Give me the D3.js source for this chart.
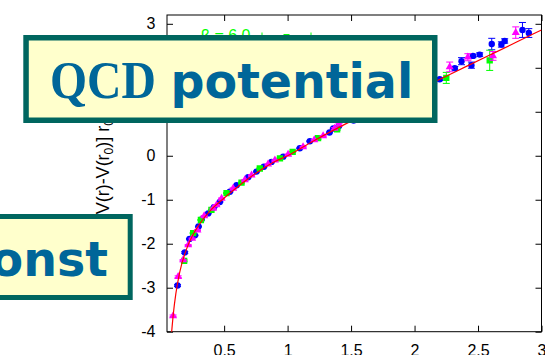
<!DOCTYPE html>
<html>
<head>
<meta charset="utf-8">
<script src="https://cdn.jsdelivr.net/npm/d3@7"></script>
<style>
  body { margin: 0; background: #fff; }
  svg { display: block; }
  .axis text { font-family: "Liberation Sans", Arial, sans-serif; font-size: 16px; fill: #000; }
  .axis line { stroke: #000; }
</style>
</head>
<body>
<div id="chart"></div>
<script>
// lattice data, [V(r)-V(r0)] r0 against r/r0
const blueR = [0.133, 0.19, 0.227, 0.27, 0.298, 0.322, 0.374, 0.42, 0.466, 0.545,
  0.598, 0.689, 0.755, 0.813, 0.873, 0.965, 1.096, 1.175, 1.33, 1.36,
  1.40, 1.52, 1.65, 1.80, 1.95, 2.10, 2.198, 2.317, 2.37, 2.448,
  2.46, 2.513, 2.608, 2.684, 2.71, 2.85, 2.90];
const blueV = [-2.95, -2.20, -1.89, -1.81, -1.61, -1.45, -1.31, -1.17, -1.05, -0.82,
  -0.67, -0.49, -0.36, -0.25, -0.14, -0.02, 0.17, 0.33, 0.53, 0.62,
  0.66, 0.80, 0.99, 1.22, 1.43, 1.62, 1.74, 1.99, 2.15, 2.06,
  2.27, 2.30, 2.54, 2.53, 2.61, 2.86, 2.79];
const blueErr = [0.02, 0.02, 0.01, 0.01, 0.01, 0.01, 0.01, 0.01, 0.01, 0.01,
  0.01, 0.01, 0.01, 0.01, 0.01, 0.01, 0.01, 0.01, 0.01, 0.01,
  0.02, 0.02, 0.02, 0.03, 0.03, 0.03, 0.03, 0.04, 0.08, 0.07,
  0.04, 0.04, 0.13, 0.06, 0.05, 0.17, 0.10];

const magR = [0.098, 0.138, 0.177, 0.217, 0.248, 0.29, 0.343, 0.413, 0.44, 0.48,
  0.571, 0.663, 0.716, 0.846, 0.90, 1.004, 1.122, 1.21, 1.28, 1.37,
  1.405, 1.55, 1.70, 1.85, 2.00, 2.15, 2.277, 2.42, 2.618, 2.797];
const magV = [-3.64, -2.75, -2.37, -2.03, -1.88, -1.69, -1.37, -1.20, -1.12, -0.97,
  -0.74, -0.55, -0.44, -0.19, -0.10, 0.03, 0.20, 0.36, 0.45, 0.62,
  0.71, 0.88, 1.10, 1.32, 1.52, 1.70, 2.02, 2.24, 2.27, 2.80];
const magErr = [0.02, 0.02, 0.01, 0.01, 0.01, 0.01, 0.01, 0.01, 0.01, 0.01,
  0.01, 0.01, 0.01, 0.01, 0.01, 0.01, 0.01, 0.01, 0.01, 0.02,
  0.02, 0.02, 0.03, 0.03, 0.04, 0.05, 0.11, 0.08, 0.10, 0.13];

const greenR = [0.185, 0.256, 0.317, 0.40, 0.519, 0.637, 0.781, 0.94, 1.04, 1.24, 1.39, 1.60, 1.90, 2.25, 2.592];
const greenV = [-2.39, -1.76, -1.46, -1.23, -0.85, -0.61, -0.29, -0.06, 0.09, 0.40, 0.60, 0.95, 1.38, 1.77, 2.17];
const greenErr = [0.02, 0.01, 0.01, 0.01, 0.01, 0.01, 0.01, 0.01, 0.01, 0.02, 0.02, 0.03, 0.05, 0.125, 0.23];

// fitted curve
const fitR = [0.086, 0.10, 0.12, 0.15, 0.20, 0.25, 0.30, 0.40, 0.50, 0.60, 0.70, 0.80,
  0.90, 1.00, 1.20, 1.40, 1.60, 1.80, 2.00, 2.20, 2.40, 2.60, 2.80, 3.00];
const fitV = [-4.03, -3.59, -3.13, -2.65, -2.15, -1.82, -1.58, -1.22, -0.96, -0.72, -0.50, -0.30,
  -0.13, 0.00, 0.33, 0.64, 0.93, 1.20, 1.47, 1.74, 2.02, 2.30, 2.58, 2.86];

const xTicks = [0.5, 1, 1.5, 2, 2.5, 3];
const yTicks = [-4, -3, -2, -1, 0, 1, 2, 3];
const xTickLabels = ['0.5', '1', '1.5', '2', '2.5', '3'];
const yTickLabels = ['-4', '-3', '-2', '-1', '0', '', '', '3'];

const width = 545;
const height = 355;
const margin = { top: 15, right: 3.5, bottom: 23.3, left: 167 };

const svg = d3.select('#chart').append('svg')
  .attr('width', width)
  .attr('height', height);

const x = d3.scaleLinear().domain([0.05, 3]).range([margin.left, width - margin.right]);
const y = d3.scaleLinear().domain([-4, 3.2]).range([height - margin.bottom, margin.top]);

svg.append('defs').append('clipPath').attr('id', 'plot')
  .append('rect')
  .attr('x', margin.left).attr('y', margin.top)
  .attr('width', x.range()[1] - margin.left)
  .attr('height', y.range()[0] - margin.top);

// axes with inward ticks on all four sides
svg.append('g').attr('class', 'axis')
  .attr('transform', `translate(${margin.left},0)`)
  .call(d3.axisLeft(y).tickValues(yTicks).tickSize(-6).tickPadding(11.5)
    .tickFormat((d, i) => yTickLabels[i]))
  .call(g => g.select('.domain').remove());

svg.append('g').attr('class', 'axis')
  .attr('transform', `translate(${x.range()[1]},0)`)
  .call(d3.axisRight(y).tickValues(yTicks).tickSize(-6).tickFormat(''))
  .call(g => g.select('.domain').remove());

svg.append('g').attr('class', 'axis')
  .attr('transform', `translate(0,${y.range()[0]})`)
  .call(d3.axisBottom(x).tickValues(xTicks).tickSize(-6).tickPadding(13)
    .tickFormat((d, i) => xTickLabels[i]))
  .call(g => g.select('.domain').remove());

svg.append('g').attr('class', 'axis')
  .attr('transform', `translate(0,${margin.top})`)
  .call(d3.axisTop(x).tickValues(xTicks).tickSize(-6).tickFormat(''))
  .call(g => g.select('.domain').remove());

svg.append('rect')
  .attr('x', margin.left).attr('y', margin.top)
  .attr('width', x.range()[1] - margin.left)
  .attr('height', y.range()[0] - margin.top)
  .attr('fill', 'none').attr('stroke', '#000').attr('stroke-width', 1);

// y axis title
const ylab = svg.append('text')
  .attr('transform', 'translate(109,119) rotate(-90)')
  .attr('text-anchor', 'end')
  .style('font-family', '"Liberation Sans", Arial, sans-serif')
  .style('font-size', '18px');
ylab.append('tspan').text('[V(r)-V(r');
ylab.append('tspan').attr('dy', 4).style('font-size', '12px').text('0');
ylab.append('tspan').attr('dy', -4).text(')] r');
ylab.append('tspan').attr('dy', 4).style('font-size', '12px').text('0');

// data series
const plot = svg.append('g').attr('clip-path', 'url(#plot)');

function series(rs, vs, errs, color, shape) {
  const pts = rs.map((r, i) => ({ r: r, v: vs[i], e: errs[i] }));
  const g = plot.append('g').attr('stroke', color).attr('fill', color);
  const bars = g.selectAll('g.err').data(pts).enter().append('g').attr('class', 'err');
  bars.append('line')
    .attr('x1', d => x(d.r)).attr('x2', d => x(d.r))
    .attr('y1', d => y(d.v - d.e)).attr('y2', d => y(d.v + d.e));
  bars.append('line')
    .attr('x1', d => x(d.r) - 3.5).attr('x2', d => x(d.r) + 3.5)
    .attr('y1', d => y(d.v - d.e)).attr('y2', d => y(d.v - d.e));
  bars.append('line')
    .attr('x1', d => x(d.r) - 3.5).attr('x2', d => x(d.r) + 3.5)
    .attr('y1', d => y(d.v + d.e)).attr('y2', d => y(d.v + d.e));
  if (shape === 'circle') {
    g.selectAll('circle').data(pts).enter().append('circle')
      .attr('cx', d => x(d.r)).attr('cy', d => y(d.v)).attr('r', 3.2).attr('stroke', 'none');
  } else {
    g.selectAll('path.pt').data(pts).enter().append('path').attr('class', 'pt')
      .attr('d', d3.symbol(shape === 'square' ? d3.symbolSquare : d3.symbolTriangle, shape === 'square' ? 40 : 28))
      .attr('transform', d => `translate(${x(d.r)},${y(d.v)})`).attr('stroke', 'none');
  }
}

series(blueR, blueV, blueErr, '#0000ff', 'circle');
series(greenR, greenV, greenErr, '#00ff00', 'square');
series(magR, magV, magErr, '#ff00ff', 'triangle');

const fit = fitR.map((r, i) => [r, fitV[i]]);
plot.append('path')
  .datum(fit)
  .attr('fill', 'none')
  .attr('stroke', '#ff0000')
  .attr('stroke-width', 1.2)
  .attr('d', d3.line().x(d => x(d[0])).y(d => y(d[1])).curve(d3.curveMonotoneX));

// key entry (mostly hidden under the title box)
svg.append('text')
  .attr('x', 250.5).attr('y', 40.8)
  .attr('text-anchor', 'end')
  .attr('fill', '#00ff00')
  .style('font-family', '"Liberation Sans", Arial, sans-serif')
  .style('font-size', '16px')
  .text('β = 6.0');
const key = svg.append('g').attr('stroke', '#00ff00');
key.append('line').attr('x1', 262).attr('x2', 311).attr('y1', 37).attr('y2', 37);
key.append('line').attr('x1', 262).attr('x2', 262).attr('y1', 32.5).attr('y2', 41.5);
key.append('line').attr('x1', 311).attr('x2', 311).attr('y1', 32.5).attr('y2', 41.5);
key.append('rect').attr('x', 283.5).attr('y', 34).attr('width', 6).attr('height', 6)
  .attr('fill', '#00ff00').attr('stroke', 'none');

// slide boxes laid over the plot
const boxStroke = '#00665f';
const boxFill = '#ffffcc';
const boxText = '#006699';

svg.append('rect')
  .attr('x', 26.05).attr('y', 37.75).attr('width', 408.7).attr('height', 82.5)
  .attr('fill', boxFill).attr('stroke', boxStroke).attr('stroke-width', 5.5);
svg.append('text')
  .attr('x', 50).attr('y', 97.7)
  .attr('fill', boxText)
  .attr('textLength', 106).attr('lengthAdjust', 'spacingAndGlyphs')
  .style('font-family', '"Liberation Serif", "Times New Roman", serif')
  .style('font-weight', 'bold')
  .style('font-size', '52px')
  .text('QCD');
svg.append('text')
  .attr('x', 170.5).attr('y', 97.7)
  .attr('fill', boxText)
  .style('font-family', '"DejaVu Sans", Verdana, sans-serif')
  .style('font-weight', 'bold')
  .style('font-size', '47.5px')
  .text('potential');

svg.append('rect')
  .attr('x', -20).attr('y', 216.5).attr('width', 150.2).attr('height', 81)
  .attr('fill', boxFill).attr('stroke', boxStroke).attr('stroke-width', 5);
svg.append('text')
  .attr('x', 108).attr('y', 275.7)
  .attr('text-anchor', 'end')
  .attr('fill', boxText)
  .style('font-family', '"DejaVu Sans", Verdana, sans-serif')
  .style('font-weight', 'bold')
  .style('font-size', '47.5px')
  .text('+ const');
</script>
</body>
</html>
